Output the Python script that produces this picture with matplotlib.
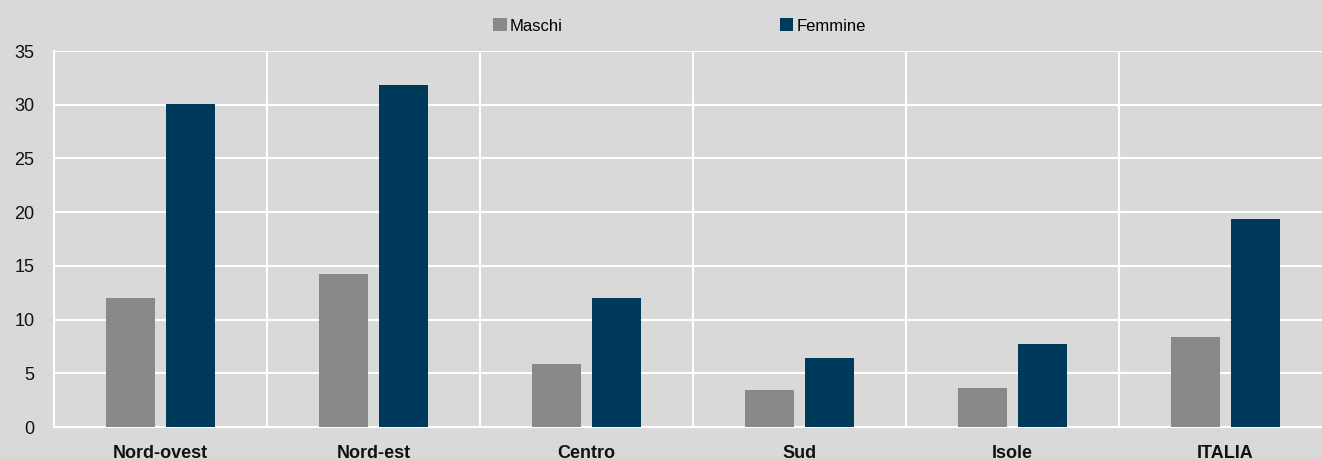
import numpy as np
import matplotlib.pyplot as plt

plt.rcParams['font.family'] = ['Liberation Sans', 'DejaVu Sans']

categories = ['Nord-ovest', 'Nord-est', 'Centro', 'Sud', 'Isole', 'ITALIA']
maschi = [12.0, 14.2, 5.9, 3.4, 3.6, 8.4]
femmine = [30.1, 31.8, 12.0, 6.4, 7.7, 19.4]

bg = '#d9d9d9'
fig = plt.figure(figsize=(13.22, 4.59), dpi=100, facecolor=bg)
ax = fig.add_axes([54 / 1322, 1 - 427 / 459, 1278 / 1322, 376 / 459], facecolor=bg)

x = np.arange(len(categories))
w = 0.23
ax.bar(x - 0.14, maschi, w, color='#898989', label='Maschi', zorder=3)
ax.bar(x + 0.14, femmine, w, color='#003a5a', label='Femmine', zorder=3)

ax.set_xlim(-0.5, len(categories) - 0.5)
ax.set_ylim(0, 35)
ax.set_yticks(range(0, 36, 5))
ax.set_xticks(x)
ax.set_xticklabels(categories, fontweight='bold', fontsize=12.5)
ax.tick_params(axis='both', length=0, labelsize=13, colors='#111111')
ax.tick_params(axis='x', pad=13)
ax.tick_params(axis='y', pad=14)

ax.set_xticks(np.arange(-0.5, len(categories), 1), minor=True)
ax.tick_params(axis='x', which='minor', length=0)
ax.grid(axis='y', color='white', linewidth=1.5, zorder=1)
ax.grid(axis='x', which='minor', color='white', linewidth=1.5, zorder=1)
ax.grid(axis='x', which='major', visible=False)
for s in ['top', 'right']:
    ax.spines[s].set_visible(False)
for s in ['left', 'bottom']:
    ax.spines[s].set_color('white')
    ax.spines[s].set_linewidth(1.5)

fig.legend(loc='center', bbox_to_anchor=(0.514, 1 - 26 / 459), ncol=2, frameon=False,
           fontsize=12, handlelength=0.8, handleheight=0.8, handletextpad=0.2,
           columnspacing=13.0)

plt.savefig('out.png', dpi=100, facecolor=bg)
